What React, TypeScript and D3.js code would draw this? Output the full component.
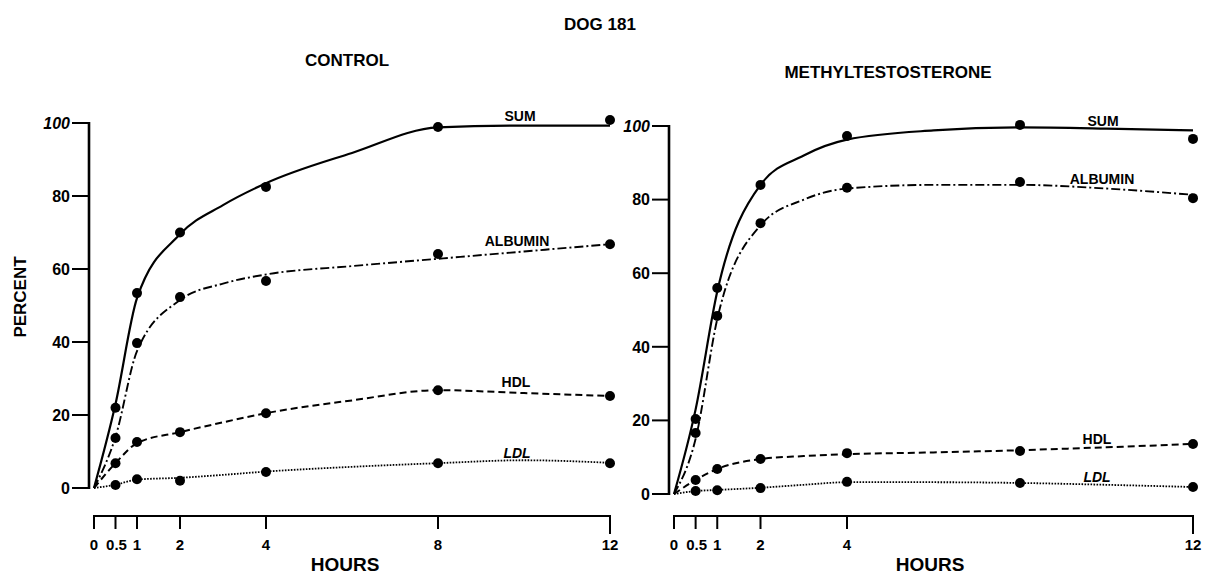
import React from "react";
import * as d3 from "d3";

// ---------- data ----------
const pointHours = [0.5, 1, 2, 4, 8, 12];
const curveHours = [0, 0.5, 1, 2, 3, 4, 6, 8, 10, 12];

// CONTROL – measured points
const controlSum = [22, 53.4, 70, 82.5, 98.9, 100.8];
const controlAlbumin = [13.7, 39.7, 52.3, 56.7, 64.1, 66.8];
const controlHdl = [6.8, 12.6, 15.3, 20.5, 26.8, 25.2];
const controlLdl = [0.8, 2.4, 2.0, 4.4, 6.8, 6.8];
// CONTROL – fitted curves
const controlSumCurve = [0, 23, 52, 69.5, 77.5, 83.5, 91.8, 98.8, 99.3, 99.3];
const controlAlbuminCurve = [0, 14, 37.5, 51.5, 56, 58.5, 60.8, 62.8, 64.8, 66.8];
const controlHdlCurve = [0, 6.8, 12.3, 15.3, 18, 20.5, 24, 26.8, 26, 25.2];
const controlLdlCurve = [0, 0.9, 2.3, 2.8, 3.6, 4.5, 5.8, 6.8, 7.6, 6.9];

// METHYLTESTOSTERONE – measured points
const mtSum = [20.4, 56, 84, 97.3, 100.3, 96.5];
const mtAlbumin = [16.6, 48.4, 73.6, 83.2, 84.8, 80.4];
const mtHdl = [3.8, 6.8, 9.5, 11.1, 11.7, 13.6];
const mtLdl = [0.8, 1.0, 1.6, 3.3, 3.0, 1.9];
// METHYLTESTOSTERONE – fitted curves
const mtSumCurve = [0, 23, 55, 84, 92, 96.3, 98.8, 99.6, 99.3, 98.8];
const mtAlbuminCurve = [0, 15, 47.5, 73, 80, 83, 84, 84, 83, 81.3];
const mtHdlCurve = [0, 3.8, 6.8, 9.5, 10.3, 10.8, 11.3, 11.9, 12.7, 13.6];
const mtLdlCurve = [0, 0.8, 1.1, 1.7, 2.5, 3.2, 3.2, 3.0, 2.5, 1.9];

const yTicks = [0, 20, 40, 60, 80, 100];
const controlXTicks = [0, 0.5, 1, 2, 4, 8, 12];
const mtXTicks = [0, 0.5, 1, 2, 4, 12];
const seriesNames = ["SUM", "ALBUMIN", "HDL", "LDL"];

const FONT = "'Liberation Sans', Arial, sans-serif";

type Panel = {
  title: string;
  titleX: number;
  titleY: number;
  x0: number;
  x1: number;
  yAxisX: number;
  y0: number;
  y100: number;
  xTicks: number[];
  points: number[][];
  curves: number[][];
  labels: { x: number; y: number }[];
  hoursX: number;
};

const dashes = [null, "9 3 2 3", "7 4", "1.6 1.4"];
const widths = [2.2, 1.9, 2, 1.8];

const panels: Panel[] = [
  {
    title: "CONTROL",
    titleX: 347,
    titleY: 66,
    x0: 94,
    x1: 610,
    yAxisX: 89,
    y0: 488,
    y100: 123,
    xTicks: controlXTicks,
    points: [controlSum, controlAlbumin, controlHdl, controlLdl],
    curves: [controlSumCurve, controlAlbuminCurve, controlHdlCurve, controlLdlCurve],
    labels: [
      { x: 520, y: 121 },
      { x: 517, y: 246 },
      { x: 516, y: 387 },
      { x: 517, y: 458 },
    ],
    hoursX: 345,
  },
  {
    title: "METHYLTESTOSTERONE",
    titleX: 888,
    titleY: 78,
    x0: 674,
    x1: 1193,
    yAxisX: 669,
    y0: 494,
    y100: 126,
    xTicks: mtXTicks,
    points: [mtSum, mtAlbumin, mtHdl, mtLdl],
    curves: [mtSumCurve, mtAlbuminCurve, mtHdlCurve, mtLdlCurve],
    labels: [
      { x: 1103, y: 126 },
      { x: 1102, y: 184 },
      { x: 1097, y: 444 },
      { x: 1097, y: 482 },
    ],
    hoursX: 930,
  },
];

function PanelView({ p }: { p: Panel }) {
  const x = d3.scaleLinear().domain([0, 12]).range([p.x0, p.x1]);
  const y = d3.scaleLinear().domain([0, 100]).range([p.y0, p.y100]);
  const line = d3
    .line<number>()
    .x((_, i) => x(curveHours[i]))
    .y((v) => y(v))
    .curve(d3.curveMonotoneX);
  const axisY = 516;
  return (
    <g>
      <text x={p.titleX} y={p.titleY} textAnchor="middle" fontFamily={FONT} fontSize={17} fontWeight="bold">
        {p.title}
      </text>
      {/* y axis */}
      <line x1={p.yAxisX} x2={p.yAxisX} y1={y(100) - 1} y2={y(0) + 1} stroke="#000" strokeWidth={2.6} />
      {yTicks.map((t) => (
        <g key={t}>
          <line x1={p.yAxisX - 17} x2={p.yAxisX} y1={y(t)} y2={y(t)} stroke="#000" strokeWidth={2} />
          <text
            x={p.yAxisX - 19}
            y={y(t)}
            dy="0.36em"
            textAnchor="end"
            fontFamily={FONT}
            fontSize={16}
            fontWeight="bold"
            fontStyle={t === 100 ? "italic" : "normal"}
          >
            {t}
          </text>
        </g>
      ))}
      {/* x axis */}
      <line x1={x(0) - 1} x2={x(12) + 1} y1={axisY} y2={axisY} stroke="#000" strokeWidth={2.2} />
      {p.xTicks.map((t) => (
        <g key={t}>
          <line x1={x(t)} x2={x(t)} y1={axisY} y2={axisY + (t === 12 ? 18 : 13)} stroke="#000" strokeWidth={2} />
          <text
            x={x(t) + (t === 0.5 ? 1 : 0)}
            y={axisY + 34}
            textAnchor="middle"
            fontFamily={FONT}
            fontSize={15}
            fontWeight="bold"
          >
            {t}
          </text>
        </g>
      ))}
      <text x={p.hoursX} y={571} textAnchor="middle" fontFamily={FONT} fontSize={19} fontWeight="bold">
        HOURS
      </text>
      {/* curves */}
      {p.curves.map((c, i) => (
        <path
          key={i}
          d={line(c) || ""}
          fill="none"
          stroke="#000"
          strokeWidth={widths[i]}
          strokeDasharray={dashes[i] || undefined}
        />
      ))}
      {/* points */}
      {p.points.map((s, i) =>
        s.map((v, j) => <circle key={i + "-" + j} cx={x(pointHours[j])} cy={y(v)} r={5} fill="#000" />)
      )}
      {/* series labels */}
      {seriesNames.map((n, i) => (
        <text
          key={n}
          x={p.labels[i].x}
          y={p.labels[i].y}
          textAnchor="middle"
          fontFamily={FONT}
          fontSize={14}
          fontWeight="bold"
          fontStyle={n === "LDL" ? "italic" : "normal"}
        >
          {n}
        </text>
      ))}
    </g>
  );
}

export default function App() {
  return (
    <svg
      width={1211}
      height={581}
      viewBox="0 0 1211 581"
      style={{ position: "absolute", left: 0, top: 0, background: "#fff" }}
    >
      <rect width={1211} height={581} fill="#fff" />
      <text x={600} y={30} textAnchor="middle" fontFamily={FONT} fontSize={17} fontWeight="bold">
        DOG 181
      </text>
      <text
        transform="translate(26,297) rotate(-90)"
        textAnchor="middle"
        fontFamily={FONT}
        fontSize={17}
        fontWeight="bold"
      >
        PERCENT
      </text>
      {panels.map((p) => (
        <PanelView key={p.title} p={p} />
      ))}
    </svg>
  );
}
